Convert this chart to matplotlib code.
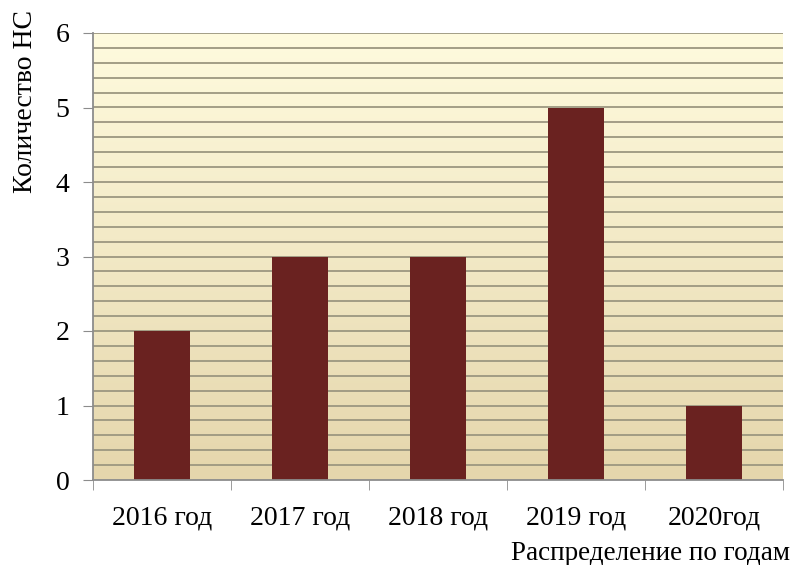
import numpy as np
import matplotlib.pyplot as plt

# данные
years = ['2016 год', '2017 год', '2018 год', '2019 год', '2020год']
counts = [2, 3, 3, 5, 1]

plt.rcParams['font.family'] = ['Liberation Serif', 'DejaVu Serif']

fig = plt.figure(figsize=(7.93, 5.65), dpi=100)
ax = fig.add_axes([93 / 793, 1 - 480 / 565, 690 / 793, 447 / 565])

x = np.arange(len(years))
ax.set_xlim(-0.5, len(years) - 0.5)
ax.set_ylim(0, 6)

# градиентный фон
top = np.array([255, 251, 222]) / 255
bottom = np.array([229, 214, 172]) / 255
t = np.linspace(0, 1, 256)[:, None]
grad = (top * (1 - t) + bottom * t)[:, None, :]
ax.imshow(grad, extent=[-0.5, len(years) - 0.5, 0, 6], aspect='auto',
          origin='upper', zorder=0)

# сетка через 0.2
for yv in np.arange(0.2, 6.01, 0.2):
    ax.axhline(yv, color='#9c9780', lw=1.3, zorder=1)

ax.bar(x, counts, width=0.4, color='#6a2220', zorder=2)

ax.set_yticks(range(0, 7))
ax.set_xticks(x)
ax.set_xticklabels(years)
ax.set_xticks(np.arange(-0.5, len(years)), minor=True)
ax.tick_params(axis='x', which='major', length=0, pad=18, labelsize=20)
ax.tick_params(axis='x', which='minor', length=7, color='#8c8c8c')
ax.tick_params(axis='y', length=7, color='#8c8c8c', labelsize=20, pad=10)

for side in ['top', 'right']:
    ax.spines[side].set_visible(False)
for side in ['left', 'bottom']:
    ax.spines[side].set_color('#8c8c8c')
    ax.spines[side].set_linewidth(1.3)

fig.text(790 / 793, 1 - 554 / 565, 'Распределение по годам', ha='right',
         va='center', fontsize=19.5)
fig.text(26 / 793, 1 - 10 / 565, 'Количество НС', ha='center', va='top',
         rotation=90, fontsize=20)

fig.savefig('out.png', dpi=100)
